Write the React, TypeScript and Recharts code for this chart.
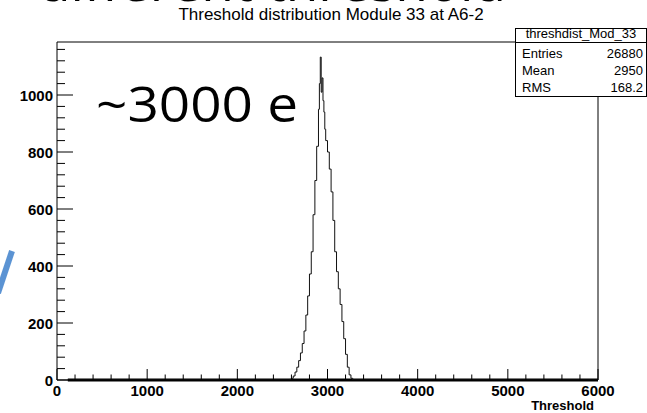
import React from 'react';
import { ComposedChart, Line, XAxis, YAxis, ReferenceArea, ReferenceLine } from 'recharts';

// Histogram bins (left edge of each bin) and counts
const thresholdBins = [
  120, 2580, 2600, 2620, 2640, 2660, 2680, 2700, 2720, 2740, 2760, 2780, 2800, 2820, 2840, 2860, 2880,
  2900, 2910, 2920, 2930, 2940, 2950, 2960, 2970, 2980, 3000, 3020, 3040, 3060, 3080, 3100, 3120,
  3140, 3160, 3180, 3200, 3220, 3240, 3260, 3280, 6000,
];
const binCounts = [
  0, 2, 6, 14, 28, 45, 68, 95, 128, 172, 228, 295, 372, 450, 580, 700, 820,
  950, 1040, 1133, 1010, 1060, 980, 940, 880, 840, 800, 740, 660, 560, 450, 380, 320,
  265, 205, 145, 90, 45, 18, 6, 0, 0,
];

const xTicks = [
  0, 200, 400, 600, 800, 1000, 1200, 1400, 1600, 1800, 2000, 2200, 2400, 2600, 2800, 3000,
  3200, 3400, 3600, 3800, 4000, 4200, 4400, 4600, 4800, 5000, 5200, 5400, 5600, 5800, 6000,
];
const yTicks = [
  0, 40, 80, 120, 160, 200, 240, 280, 320, 360, 400, 440, 480, 520, 560, 600, 640, 680, 720,
  760, 800, 840, 880, 920, 960, 1000, 1040, 1080, 1120, 1160,
];
const Y_MAX = 1186;

const titleText = 'Threshold distribution Module 33 at A6-2';
const xAxisTitle = 'Threshold';
const statsName = 'threshdist_Mod_33';
const statsLabels = ['Entries', 'Mean', 'RMS'];
const statsValues = ['26880', '2950', '168.2'];
const overlayTop = 'different threshold';
const overlayMid = '~3000 e';

const data = thresholdBins.map((x, i) => ({ x, y: binCounts[i] }));

const FONT = '"Liberation Sans", Arial, Helvetica, sans-serif';

const XTick = (props: any) => {
  const { x, y, payload } = props;
  const v = payload.value;
  const major = v % 1000 === 0;
  return (
    <g>
      <line x1={x} x2={x} y1={y} y2={y - (major ? 11 : 5.5)} stroke="#000" strokeWidth={1} />
      {major && (
        <text x={x} y={y + 16} textAnchor="middle" fontFamily={FONT} fontWeight="bold" fontSize={15} fill="#000">
          {v}
        </text>
      )}
    </g>
  );
};

const YTick = (props: any) => {
  const { x, y, payload } = props;
  const v = payload.value;
  const major = v % 200 === 0;
  return (
    <g>
      <line x1={x} x2={x + (major ? 16 : 8)} y1={y} y2={y} stroke="#000" strokeWidth={1} />
      {major && (
        <text x={x - 4} y={y + 5.5} textAnchor="end" fontFamily={FONT} fontWeight="bold" fontSize={15} fill="#000">
          {v}
        </text>
      )}
    </g>
  );
};

export default function App() {
  return (
    <div style={{ position: 'absolute', left: 0, top: 0, width: 647, height: 413, background: '#fff', overflow: 'hidden' }}>
      <ComposedChart width={647} height={413} data={data} margin={{ top: 42, right: 49, bottom: 0, left: 0 }}>
        <XAxis
          type="number"
          dataKey="x"
          domain={[0, 6000]}
          ticks={xTicks}
          interval={0}
          tick={(p: any) => <XTick {...p} />}
          tickLine={false}
          axisLine={false}
          tickSize={0}
          tickMargin={0}
          height={33}
          allowDataOverflow
        />
        <YAxis
          type="number"
          domain={[0, Y_MAX]}
          ticks={yTicks}
          interval={0}
          tick={(p: any) => <YTick {...p} />}
          tickLine={false}
          axisLine={false}
          tickSize={0}
          tickMargin={0}
          width={57}
          allowDataOverflow
        />
        <ReferenceArea x1={0} x2={6000} y1={0} y2={Y_MAX} fill="#fff" fillOpacity={0} stroke="#000" strokeWidth={1} />
        <ReferenceLine segment={[{ x: 120, y: 0 }, { x: 6000, y: 0 }]} stroke="#000" strokeWidth={3} />
        <Line type="stepAfter" dataKey="y" stroke="#111" strokeWidth={1} dot={false} isAnimationActive={false} />
      </ComposedChart>
      <svg width={647} height={413} style={{ position: 'absolute', left: 0, top: 0, pointerEvents: 'none' }}>
        <text x={331} y={20} textAnchor="middle" fontFamily={FONT} fontSize={17} fill="#000">
          {titleText}
        </text>
        <text x={594} y={410} textAnchor="end" fontFamily={FONT} fontWeight="bold" fontSize={13} fill="#000">
          {xAxisTitle}
        </text>
        <rect x={515.5} y={28.5} width={131} height={68} fill="#fff" stroke="#000" strokeWidth={1} />
        <line x1={515.5} x2={646.5} y1={42.5} y2={42.5} stroke="#000" strokeWidth={1} />
        <text x={581} y={38} textAnchor="middle" fontFamily={FONT} fontSize={13} fill="#000">
          {statsName}
        </text>
        {statsLabels.map((lab, i) => (
          <g key={lab}>
            <text x={522} y={57.5 + i * 17} fontFamily={FONT} fontSize={13} fill="#000">
              {lab}
            </text>
            <text x={643} y={57.5 + i * 17} textAnchor="end" fontFamily={FONT} fontSize={13} fill="#000">
              {statsValues[i]}
            </text>
          </g>
        ))}
        <text x={38} y={1} fontFamily='"Open Sans", sans-serif' fontSize={52} fill="#000" textLength={468} lengthAdjust="spacingAndGlyphs">
          {overlayTop}
        </text>
        <text x={96} y={122} fontFamily='"Open Sans", sans-serif' fontSize={49} fill="#000" textLength={202} lengthAdjust="spacingAndGlyphs">
          {overlayMid}
        </text>
        <line x1={12} y1={251} x2={-2} y2={293} stroke="#5b93d3" strokeWidth={6} />
      </svg>
    </div>
  );
}
